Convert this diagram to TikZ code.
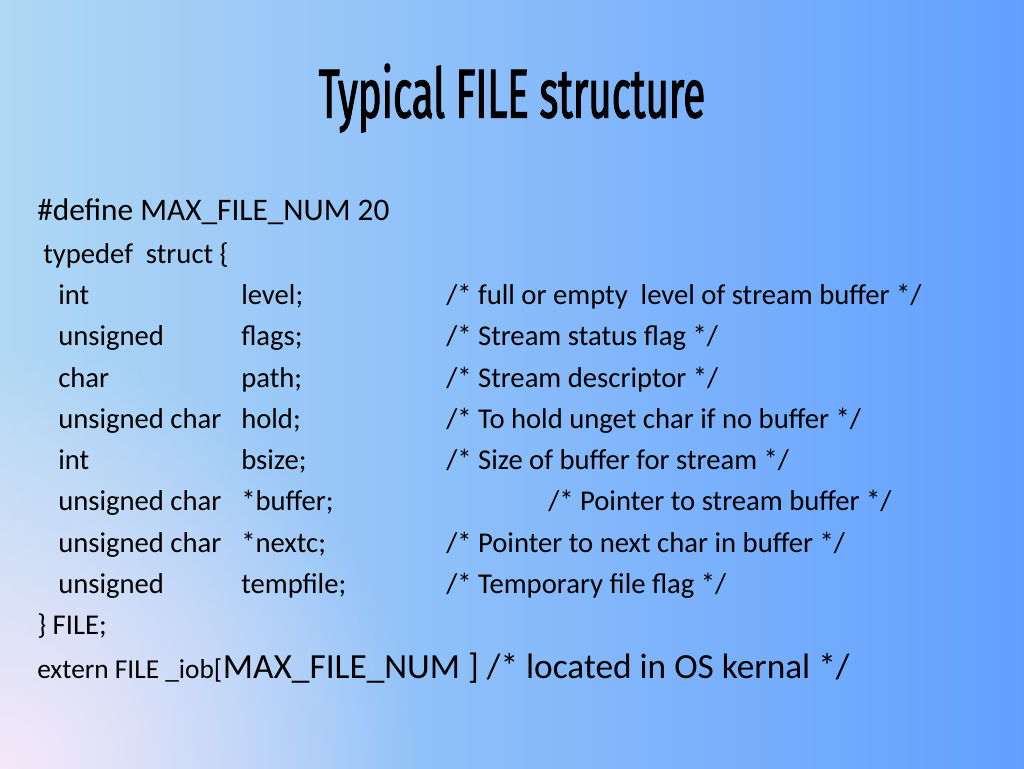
\documentclass[tikz,border=0pt]{standalone}
\usepackage{fontspec}
\setmainfont{Carlito}
\newfontfamily\titlefont[FakeStretch=0.58,FakeBold=1.5]{Fira Sans}
\usetikzlibrary{fadings}
\definecolor{bgl}{RGB}{176,216,244}
\definecolor{bgr}{RGB}{98,160,255}
\definecolor{bgp}{RGB}{246,232,250}
\tikzfading[name=pinkfade, inner color=transparent!0, outer color=transparent!100]
\begin{document}
\begin{tikzpicture}[x=0.75pt,y=-0.75pt,
  txt/.style={anchor=base west,inner sep=0pt,font=\fontsize{21.5}{24}\selectfont},
  big/.style={anchor=base west,inner sep=0pt,font=\fontsize{23.5}{26}\selectfont}]
\shade[left color=bgl, right color=bgr] (0,0) rectangle (1024,768);
\begin{scope}
\clip (0,0) rectangle (1024,768);
\fill[bgp, path fading=pinkfade] (0,768) circle (420);
\end{scope}
\useasboundingbox (0,0) rectangle (1024,768);
\node[inner sep=0pt,font=\titlefont\fontsize{52}{56}\selectfont] (title) at (512,98) {Typical FILE structure};
\node[big] (d) at (37,220) {\#define MAX\_FILE\_NUM 20};
\node[txt] (t) at (43,263) {typedef\ \ struct \{};
\foreach \y/\a/\b/\c [count=\i] in {
  304/int/level;/{/* full or empty\ \ level of stream buffer */},
  345/unsigned/flags;/{/* Stream status flag */},
  387/char/path;/{/* Stream descriptor */},
  428/unsigned char/hold;/{/* To hold unget char if no buffer */},
  469/int/bsize;/{/* Size of buffer for stream */},
  552/unsigned char/*nextc;/{/* Pointer to next char in buffer */},
  593/unsigned/tempfile;/{/* Temporary file flag */}}{
  \node[txt] (a\i) at (58,\y) {\a};
  \node[txt] (b\i) at (241,\y) {\b};
  \node[txt] (c\i) at (446,\y) {\c};
}
\node[txt] (ab) at (58,510) {unsigned char};
\node[txt] (bb) at (241,510) {*buffer;};
\node[txt] (cb) at (548,510) {/* Pointer to stream buffer */};
\node[txt] (f) at (37,634) {\} FILE;};
\node[anchor=base west,inner sep=0pt,font=\fontsize{20.5}{22}\selectfont] (e1) at (37,678) {extern FILE \_iob[};
\node[anchor=base west,inner sep=0pt,font=\fontsize{26.5}{28}\selectfont] (e2) at (e1.base east) {MAX\_FILE\_NUM ] /* located in OS kernal */};
\end{tikzpicture}
\end{document}
